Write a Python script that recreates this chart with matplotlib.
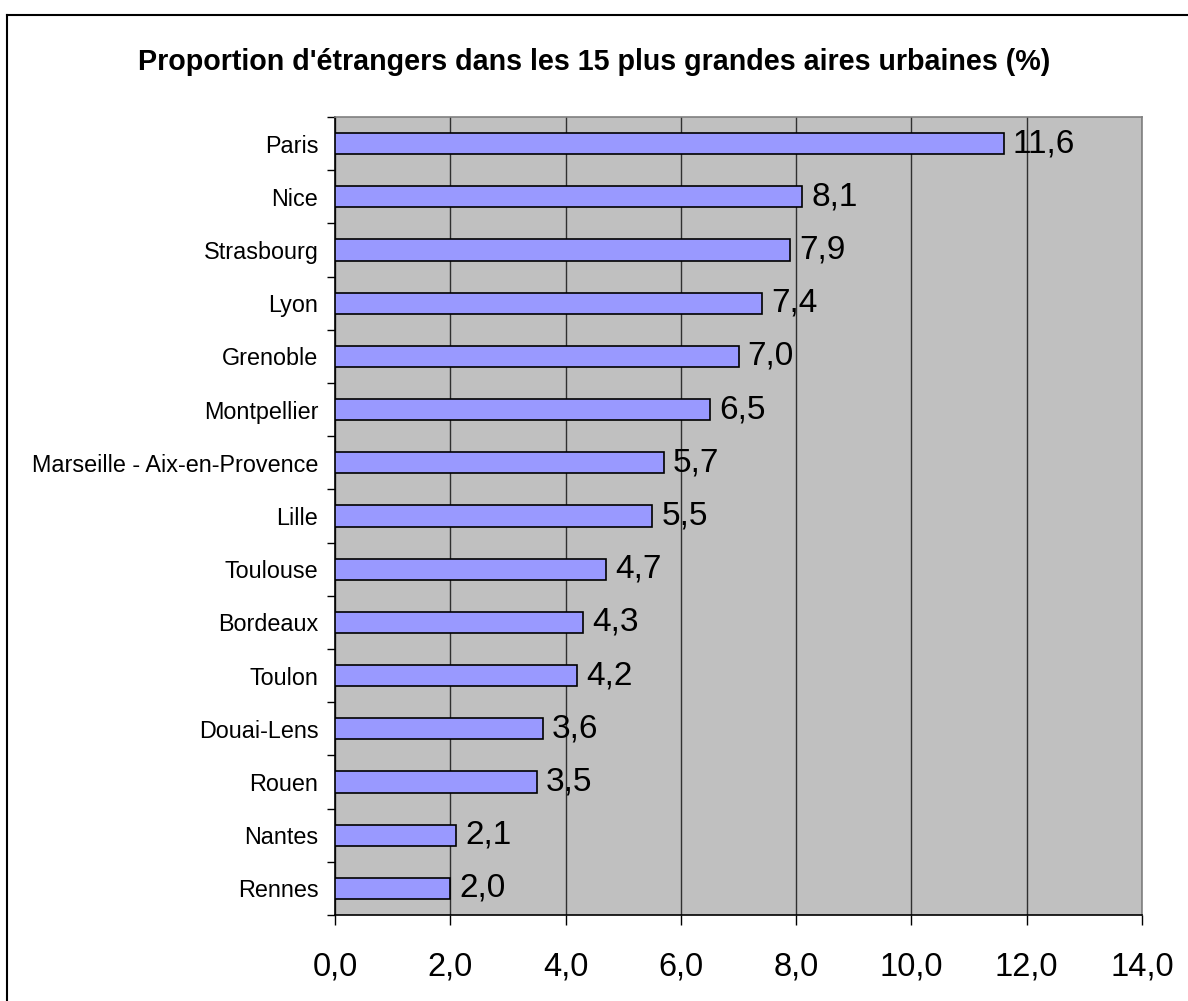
import numpy as np
import matplotlib.pyplot as plt
from matplotlib.lines import Line2D

# Data
villes = ["Paris", "Nice", "Strasbourg", "Lyon", "Grenoble", "Montpellier",
          "Marseille - Aix-en-Provence", "Lille", "Toulouse", "Bordeaux",
          "Toulon", "Douai-Lens", "Rouen", "Nantes", "Rennes"]
valeurs = [11.6, 8.1, 7.9, 7.4, 7.0, 6.5, 5.7, 5.5, 4.7, 4.3, 4.2, 3.6, 3.5, 2.1, 2.0]
x_ticks = [0, 2, 4, 6, 8, 10, 12, 14]

plt.rcParams['font.family'] = ['Liberation Sans', 'DejaVu Sans']

fig = plt.figure(figsize=(11.88, 10.01), dpi=100)
# outer chart frame (only left and top edges are visible)
bx, by = 7 / 1188, 1 - 15 / 1001
fig.lines.append(Line2D([bx, bx], [0, by], transform=fig.transFigure, color='black', linewidth=1.5))
fig.lines.append(Line2D([bx, 1], [by, by], transform=fig.transFigure, color='black', linewidth=1.5))

ax = fig.add_axes([335 / 1188, 1 - 915 / 1001, 807 / 1188, 798 / 1001])
ax.set_facecolor('#C0C0C0')

n = len(villes)
pos = np.arange(n)[::-1]
ax.barh(pos, valeurs, height=0.4, color='#9999FF', edgecolor='black',
        linewidth=1.2, zorder=3)

for p, v in zip(pos, valeurs):
    ax.text(v + 0.16, p, f"{v:.1f}".replace('.', ','), va='center', ha='left',
            fontsize=24, zorder=4)

ax.set_xlim(0, 14)
ax.set_ylim(-0.5, n - 0.5)
ax.set_xticks(x_ticks)
ax.set_xticklabels([f"{t:.1f}".replace('.', ',') for t in x_ticks], fontsize=23.5)
ax.set_yticks(pos)
ax.set_yticklabels(villes, fontsize=16.8)
ax.set_yticks(np.arange(-0.5, n, 1), minor=True)
ax.tick_params(axis='y', which='major', length=0, pad=12)
ax.tick_params(axis='y', which='minor', length=6, width=1, direction='out')
ax.tick_params(axis='x', length=7, width=1, direction='out', pad=19)

ax.grid(axis='x', color='#303030', linewidth=1, zorder=1)
ax.set_axisbelow(True)

for s in ['top', 'right']:
    ax.spines[s].set_color('#808080')
    ax.spines[s].set_linewidth(1.2)
for s in ['left', 'bottom']:
    ax.spines[s].set_color('black')
    ax.spines[s].set_linewidth(1.2)

fig.text(0.5, 1 - 62 / 1001, "Proportion d'étrangers dans les 15 plus grandes aires urbaines (%)",
         ha='center', va='center', fontsize=20.6, fontweight='bold')

fig.savefig("out.png", dpi=100)
